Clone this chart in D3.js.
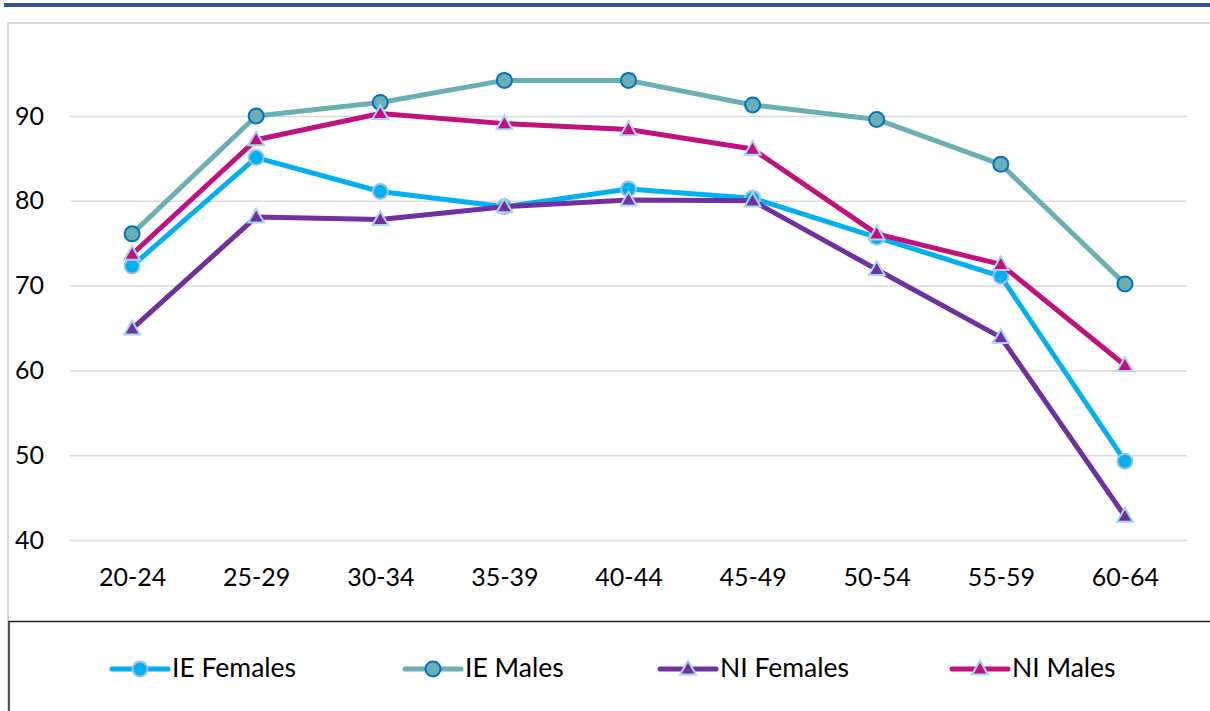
<!DOCTYPE html>
<html>
<head>
<meta charset="utf-8">
<script src="https://cdn.jsdelivr.net/npm/d3@7/dist/d3.min.js"></script>
<style>
  html, body { margin: 0; padding: 0; background: #fff; }
  svg { display: block; }
  text { font-family: Lato, "Open Sans", sans-serif; fill: #000; }
</style>
</head>
<body>
<svg id="chart" width="1210" height="711"></svg>
<script>
const categories = ["20-24","25-29","30-34","35-39","40-44","45-49","50-54","55-59","60-64"];
const ieFemales = [72.3, 85.1, 81.1, 79.3, 81.4, 80.3, 75.7, 71.1, 49.3];
const ieMales   = [76.1, 90.0, 91.6, 94.2, 94.2, 91.3, 89.6, 84.3, 70.2];
const niFemales = [64.9, 78.1, 77.8, 79.3, 80.1, 80.0, 71.9, 63.9, 42.8];
const niMales   = [73.7, 87.2, 90.3, 89.1, 88.4, 86.1, 76.1, 72.5, 60.6];
const yTicks = [40, 50, 60, 70, 80, 90];

const series = [
  {name: "IE Females", values: ieFemales, color: "#00B0F0", marker: "circle", mFill: "#00B0F0", mStroke: "#9DC3E6"},
  {name: "IE Males",   values: ieMales,   color: "#6AAFB3", marker: "circle", mFill: "#6AAFB3", mStroke: "#0070C0"},
  {name: "NI Females", values: niFemales, color: "#7030A0", marker: "triangle", mFill: "#7030A0", mStroke: "#A9D5F5"},
  {name: "NI Males",   values: niMales,   color: "#C0117F", marker: "triangle", mFill: "#C0117F", mStroke: "#A9D5F5"}
];
const legendX = [112, 405, 660, 952];

const svg = d3.select("#chart");

// top blue bar
svg.append("rect").attr("x", 4).attr("y", 3).attr("width", 1206).attr("height", 4).attr("fill", "#2F5597");
// chart border
svg.append("rect").attr("x", 8).attr("y", 23).attr("width", 1210).attr("height", 700)
  .attr("fill", "none").attr("stroke", "#D9D9D9").attr("stroke-width", 2);
// legend box
svg.append("rect").attr("x", 9).attr("y", 621.5).attr("width", 1210).attr("height", 100)
  .attr("fill", "#fff").attr("stroke", "#222").attr("stroke-width", 1.5);

const x = d3.scalePoint().domain(categories).range([70, 1187]).padding(0.5);
const y = d3.scaleLinear().domain([40, 90]).range([540, 116]);

// gridlines
const yAxis = d3.axisLeft(y).tickValues(yTicks).tickSize(-(1187 - 70)).tickFormat(d3.format("d")).tickPadding(26);
const gy = svg.append("g").attr("transform", "translate(70,0)").call(yAxis);
gy.select(".domain").remove();
gy.selectAll(".tick line").attr("stroke", "#D9D9D9").attr("stroke-width", 1.5);
gy.selectAll(".tick text").attr("font-size", 25).attr("fill", "#000").style("font-family", "Lato, sans-serif");

const xAxis = d3.axisBottom(x).tickSize(0).tickPadding(28);
const gx = svg.append("g").attr("transform", "translate(0,540)").call(xAxis);
gx.select(".domain").remove();
gx.selectAll(".tick text").attr("font-size", 25).attr("fill", "#000").style("font-family", "Lato, sans-serif");

const line = d3.line().x((d, i) => x(categories[i])).y(d => y(d));
const tri = d3.symbol().type(d3.symbolTriangle).size(110);

function drawMarker(g, s, cx, cy) {
  if (s.marker === "circle") {
    g.append("circle").attr("cx", cx).attr("cy", cy).attr("r", 7.5)
      .attr("fill", s.mFill).attr("stroke", s.mStroke).attr("stroke-width", 2);
  } else {
    g.append("path").attr("d", tri()).attr("transform", `translate(${cx},${cy + 1})`)
      .attr("fill", s.mFill).attr("stroke", s.mStroke).attr("stroke-width", 2);
  }
}

series.forEach(s => {
  const g = svg.append("g");
  g.append("path").datum(s.values).attr("d", line)
    .attr("fill", "none").attr("stroke", s.color).attr("stroke-width", 5).attr("stroke-linejoin", "round");
  s.values.forEach((v, i) => drawMarker(g, s, x(categories[i]), y(v)));
});

// legend
series.forEach((s, i) => {
  const g = svg.append("g");
  const lx = legendX[i], ly = 669;
  g.append("line").attr("x1", lx).attr("x2", lx + 56).attr("y1", ly).attr("y2", ly)
    .attr("stroke", s.color).attr("stroke-width", 5).attr("stroke-linecap", "round");
  drawMarker(g, s, lx + 28, ly);
  g.append("text").attr("x", lx + 60).attr("y", 677).attr("font-size", 26.5).text(s.name);
});
</script>
</body>
</html>
